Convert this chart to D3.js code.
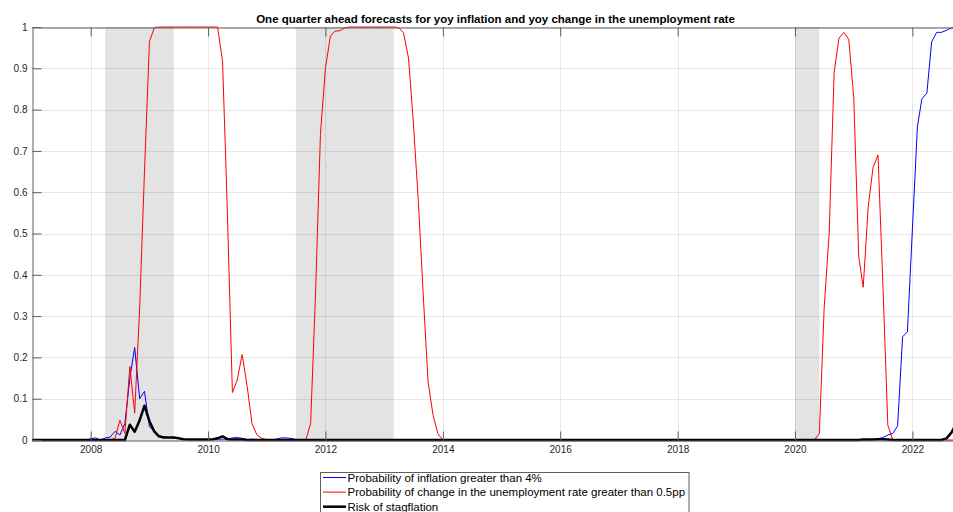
<!DOCTYPE html>
<html>
<head>
<meta charset="utf-8">
<script src="https://cdn.jsdelivr.net/npm/d3@7"></script>
<style>
  html, body { margin: 0; padding: 0; background: #fff; }
  svg { display: block; font-family: Arial, "Liberation Sans", Helvetica, sans-serif; }
</style>
</head>
<body>
<svg id="chart" width="953" height="512"></svg>
<script>
// Monthly observations, first one is January 2007
const firstMonth = "2007-01";

// Probability of yoy inflation above 4% (one quarter ahead)
const inflationProb = [
  0,0,0,0,0,0,0,0,0,0,0,0,                                              // 2007
  0.003,0.005,0.000,0.005,0.007,0.021,0.012,0.040,0.150,0.224,0.100,0.118, // 2008
  0.032,0.020,0.010,0.007,0.006,0.005,0.004,0.002,0.001,0.001,0.001,0.001, // 2009
  0.001,0.002,0.002,0.002,0.002,0.005,0.006,0.004,0.001,0.002,0.001,0.001, // 2010
  0.001,0.001,0.002,0.005,0.005,0.004,0.001,0,0,0,0,0,                    // 2011
  0,0,0,0,0,0,0,0,0,0,0,0,                                              // 2012
  0,0,0,0,0,0,0,0,0,0,0,0,                                              // 2013
  0,0,0,0,0,0,0,0,0,0,0,0,                                              // 2014
  0,0,0,0,0,0,0,0,0,0,0,0,                                              // 2015
  0,0,0,0,0,0,0,0,0,0,0,0,                                              // 2016
  0,0,0,0,0,0,0,0,0,0,0,0,                                              // 2017
  0,0,0,0,0,0,0,0,0,0,0,0,                                              // 2018
  0,0,0,0,0,0,0,0,0,0,0,0,                                              // 2019
  0,0,0,0,0,0,0,0,0,0,0,0,                                              // 2020
  0,0,0,0,0.001,0.003,0.006,0.012,0.016,0.034,0.250,0.262,               // 2021
  0.510,0.758,0.826,0.840,0.964,0.987,0.987,0.992,0.998,1.000            // 2022
];

// Probability of a yoy rise in the unemployment rate above 0.5pp
const unemploymentProb = [
  0,0,0,0,0,0,0,0,0,0,0,0,                                              // 2007
  0,0,0,0,0,0.004,0.048,0.016,0.178,0.065,0.320,0.650,                   // 2008
  0.965,0.999,1,1,1,1,1,1,1,1,1,1,                                       // 2009
  1,1,1,0.916,0.550,0.115,0.145,0.207,0.130,0.040,0.012,0.004,           // 2010
  0.001,0,0,0,0,0,0,0,0,0.040,0.360,0.740,                               // 2011
  0.900,0.978,0.990,0.991,0.998,1,1,1,1,1,1,1,                           // 2012
  1,1,1,0.998,0.986,0.925,0.770,0.580,0.350,0.140,0.060,0.015,           // 2013
  0,0,0,0,0,0,0,0,0,0,0,0,                                              // 2014
  0,0,0,0,0,0,0,0,0,0,0,0,                                              // 2015
  0,0,0,0,0,0,0,0,0,0,0,0,                                              // 2016
  0,0,0,0,0,0,0,0,0,0,0,0,                                              // 2017
  0,0,0,0,0,0,0,0,0,0,0,0,                                              // 2018
  0,0,0,0,0,0,0,0,0,0,0,0,                                              // 2019
  0,0,0,0,0,0.016,0.320,0.500,0.890,0.973,0.987,0.970,                   // 2020
  0.830,0.444,0.370,0.565,0.660,0.690,0.380,0.036,0,0,0,0,               // 2021
  0,0,0,0,0,0,0,0,0,0                                                    // 2022
];

// Joint probability of both events
const stagflationRisk = [
  0,0,0,0,0,0,0,0,0,0,0,0,                                              // 2007
  0,0,0,0,0,0,0,0,0.037,0.020,0.048,0.083,                               // 2008
  0.045,0.020,0.009,0.006,0.006,0.006,0.004,0.002,0.001,0.001,0.001,0.001, // 2009
  0.001,0.002,0.004,0.009,0.002,0.001,0.001,0.001,0,0,0,0,               // 2010
  0,0,0,0,0,0,0,0,0,0,0,0,                                              // 2011
  0,0,0,0,0,0,0,0,0,0,0,0,                                              // 2012
  0,0,0,0,0,0,0,0,0,0,0,0,                                              // 2013
  0,0,0,0,0,0,0,0,0,0,0,0,                                              // 2014
  0,0,0,0,0,0,0,0,0,0,0,0,                                              // 2015
  0,0,0,0,0,0,0,0,0,0,0,0,                                              // 2016
  0,0,0,0,0,0,0,0,0,0,0,0,                                              // 2017
  0,0,0,0,0,0,0,0,0,0,0,0,                                              // 2018
  0,0,0,0,0,0,0,0,0,0,0,0,                                              // 2019
  0,0,0,0,0,0,0,0,0,0,0,0,                                              // 2020
  0,0,0.001,0.001,0.001,0.002,0.002,0.001,0,0,0,0,                       // 2021
  0,0,0,0,0,0,0,0.004,0.018,0.040                                        // 2022
];

// Recession periods (shaded)
const recessionStarts = ["2008-04-01", "2011-07-01", "2020-01-01"];
const recessionEnds   = ["2009-06-01", "2013-03-01", "2020-06-01"];

const yTickValues = [0, 0.1, 0.2, 0.3, 0.4, 0.5, 0.6, 0.7, 0.8, 0.9, 1];
const yTickLabels = ["0", "0.1", "0.2", "0.3", "0.4", "0.5", "0.6", "0.7", "0.8", "0.9", "1"];
const xTickYears  = ["2008", "2010", "2012", "2014", "2016", "2018", "2020", "2022"];

const seriesNames = [
  "Probability of inflation greater than 4%",
  "Probability of change in the unemployment rate greater than 0.5pp",
  "Risk of stagflation"
];
const seriesColors = ["#0000ff", "#ff0000", "#000000"];
const seriesWidths = [1, 1, 2.5];

const titleText = "One quarter ahead forecasts for yoy inflation and yoy change in the unemployment rate";

// ---- layout ----
const plot = { left: 32, right: 959, top: 27, bottom: 440 };
const axisColor = "#5e5e5e";
const labelColor = "#262626";

const svg = d3.select("#chart");
const parseDay = d3.timeParse("%Y-%m-%d");
const parseMonth = d3.timeParse("%Y-%m");
const parseYear = d3.timeParse("%Y");

const start = parseMonth(firstMonth);
const dates = d3.timeMonth.range(start, d3.timeMonth.offset(start, inflationProb.length));

const x = d3.scaleTime()
  .domain([parseDay("2007-01-01"), parseDay("2022-10-18")])
  .range([plot.left, plot.right]);
const y = d3.scaleLinear().domain([0, 1]).range([plot.bottom, plot.top]);

svg.append("defs").append("clipPath").attr("id", "plotClip")
  .append("rect")
  .attr("x", plot.left).attr("y", plot.top - 6)
  .attr("width", plot.right - plot.left).attr("height", plot.bottom - plot.top + 12);

// recession shading
svg.append("g").selectAll("rect")
  .data(d3.zip(recessionStarts, recessionEnds))
  .join("rect")
  .attr("x", d => x(parseDay(d[0])))
  .attr("y", plot.top)
  .attr("width", d => x(parseDay(d[1])) - x(parseDay(d[0])))
  .attr("height", plot.bottom - plot.top)
  .attr("fill", "#e3e3e3");

// grid
const grid = svg.append("g").attr("stroke", "#000").attr("stroke-opacity", 0.09).attr("stroke-width", 1);
grid.selectAll("line.h")
  .data(yTickValues)
  .join("line").attr("class", "h")
  .attr("x1", plot.left).attr("x2", plot.right)
  .attr("y1", d => Math.round(y(d)) + 0.5).attr("y2", d => Math.round(y(d)) + 0.5);
grid.selectAll("line.v")
  .data(xTickYears)
  .join("line").attr("class", "v")
  .attr("y1", plot.top).attr("y2", plot.bottom)
  .attr("x1", d => Math.round(x(parseYear(d))) + 0.5).attr("x2", d => Math.round(x(parseYear(d))) + 0.5);

// series lines
const series = [inflationProb, unemploymentProb, stagflationRisk];
const line = d3.line().x(d => x(d[0])).y(d => y(d[1]));
const lines = svg.append("g").attr("clip-path", "url(#plotClip)");
series.forEach((vals, i) => {
  lines.append("path")
    .datum(d3.zip(dates, vals))
    .attr("d", line)
    .attr("fill", "none")
    .attr("stroke", seriesColors[i])
    .attr("stroke-width", seriesWidths[i])
    .attr("stroke-linejoin", "round");
});

// axes
function styleAxis(g) {
  g.select(".domain").attr("stroke", axisColor);
  g.selectAll(".tick line").attr("stroke", axisColor);
  g.selectAll(".tick text").attr("fill", labelColor).attr("font-size", 10)
    .attr("font-family", "Arial, 'Liberation Sans', Helvetica, sans-serif");
}

const xAxis = d3.axisBottom(x)
  .tickValues(xTickYears.map(parseYear))
  .tickFormat(d3.timeFormat("%Y"))
  .tickSizeInner(-9).tickSizeOuter(0).tickPadding(5);
svg.append("g").attr("transform", `translate(0,${plot.bottom + 0.5})`).call(xAxis).call(styleAxis);

const xAxisTop = d3.axisTop(x)
  .tickValues(xTickYears.map(parseYear))
  .tickFormat("")
  .tickSizeInner(-9).tickSizeOuter(0);
svg.append("g").attr("transform", `translate(0,${plot.top + 0.5})`).call(xAxisTop).call(styleAxis);

const yAxis = d3.axisLeft(y)
  .tickValues(yTickValues)
  .tickFormat((d, i) => yTickLabels[i])
  .tickSizeInner(-9).tickSizeOuter(0).tickPadding(5);
svg.append("g").attr("transform", `translate(${plot.left + 0.5},0)`).call(yAxis).call(styleAxis);

// title
svg.append("text")
  .attr("x", (plot.left + plot.right) / 2)
  .attr("y", 22.5)
  .attr("text-anchor", "middle")
  .attr("font-size", 11.5)
  .attr("font-weight", "bold")
  .attr("fill", "#000")
  .text(titleText);

// legend (box runs past the bottom edge of the page)
const legend = svg.append("g").attr("transform", "translate(320.5,472.5)");
legend.append("rect")
  .attr("width", 368.5).attr("height", 46)
  .attr("fill", "#fff").attr("stroke", axisColor).attr("stroke-width", 1);
const rows = legend.selectAll("g.row")
  .data(seriesNames)
  .join("g").attr("class", "row")
  .attr("transform", (d, i) => `translate(0,${5 + i * 14.6})`);
rows.append("line")
  .attr("x1", 2.5).attr("x2", 25.5).attr("y1", 0).attr("y2", 0)
  .attr("stroke", (d, i) => seriesColors[i])
  .attr("stroke-width", (d, i) => seriesWidths[i]);
rows.append("text")
  .attr("x", 27).attr("y", 0).attr("dy", "0.35em")
  .attr("font-size", 11.5).attr("fill", "#000")
  .text(d => d);
</script>
</body>
</html>
